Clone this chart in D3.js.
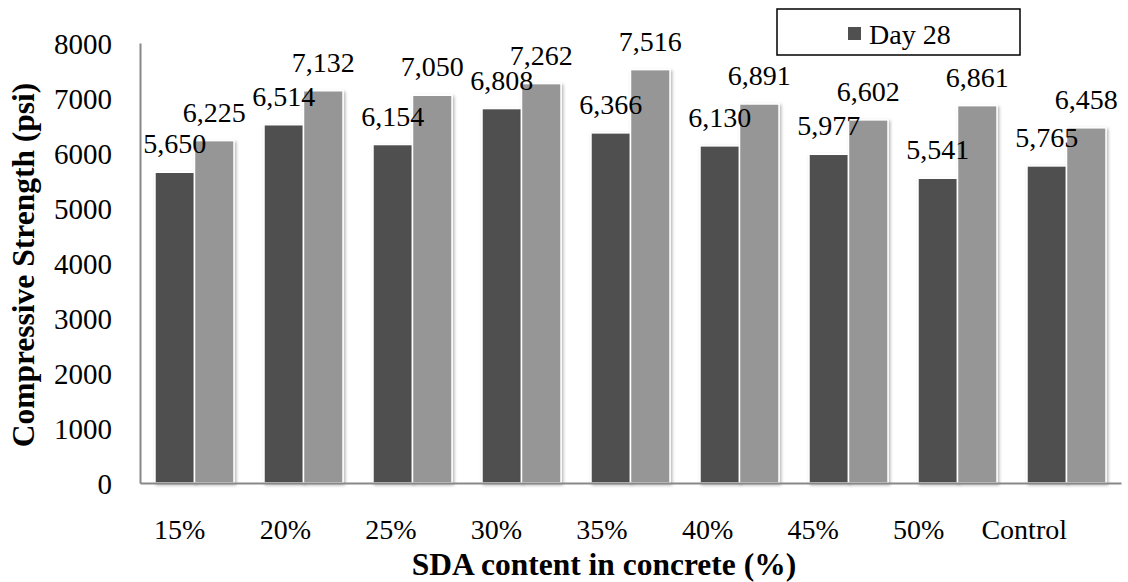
<!DOCTYPE html>
<html>
<head>
<meta charset="utf-8">
<script src="https://cdn.jsdelivr.net/npm/d3@7/dist/d3.min.js"></script>
<style>
  html, body { margin: 0; padding: 0; background: #fff; }
  svg text { font-family: "Liberation Serif", "Times New Roman", Times, Tinos, "DejaVu Serif", serif !important; }
</style>
</head>
<body>
<svg id="chart" width="1128" height="582"></svg>
<script>
const categories = ["15%", "20%", "25%", "30%", "35%", "40%", "45%", "50%", "Control"];
const seriesNames = ["Day 28", "Day 28b"];
const day28 = [5650, 6514, 6154, 6808, 6366, 6130, 5977, 5541, 5765];
const day28b = [6225, 7132, 7050, 7262, 7516, 6891, 6602, 6861, 6458];
const yTicks = [0, 1000, 2000, 3000, 4000, 5000, 6000, 7000, 8000];
const legendLabels = ["Day 28"];

const colors = ["#505050", "#969696"];
const svg = d3.select("#chart");
const plot = { left: 140, right: 1121, top: 43, bottom: 483 };

const defs = svg.append("defs");
const f = defs.append("filter").attr("id", "shadow")
  .attr("x", "-20%").attr("y", "-5%").attr("width", "140%").attr("height", "110%");
f.append("feDropShadow").attr("dx", 1.5).attr("dy", 1.5).attr("stdDeviation", 1.6)
  .attr("flood-color", "#000").attr("flood-opacity", 0.3);

const x0 = d3.scaleBand().domain(categories).range([plot.left, plot.right])
  .paddingInner(0.275).paddingOuter(0.1375);
const x1 = d3.scaleBand().domain([0, 1]).range([0, x0.bandwidth()]).padding(0);
// category labels in the original sit on a slightly narrower spacing than the bars
const xLab = d3.scaleBand().domain(categories).range([127, 1077]);
const y = d3.scaleLinear().domain([0, 8000]).range([plot.bottom, plot.top]);

const rows = categories.map((c, i) => ({ cat: c, vals: [day28[i], day28b[i]] }));

const g = svg.append("g");
const groups = g.selectAll("g.grp").data(rows).join("g")
  .attr("transform", d => `translate(${x0(d.cat)},0)`);
groups.selectAll("rect").data(d => d.vals.map((v, k) => ({ v, k }))).join("rect")
  .attr("x", d => x1(d.k))
  .attr("y", d => y(d.v))
  .attr("width", x1.bandwidth())
  .attr("height", d => y(0) - y(d.v))
  .attr("fill", d => colors[d.k])
  .attr("stroke", "#fff")
  .attr("stroke-width", 1.5)
  .attr("filter", "url(#shadow)");

const yAxis = svg.append("g").attr("transform", `translate(${plot.left},0)`)
  .call(d3.axisLeft(y).tickValues(yTicks).tickSize(0).tickPadding(28).tickFormat(d3.format("d")));
yAxis.attr("font-family", null);
yAxis.select(".domain").attr("stroke", "#888").attr("stroke-width", 2);
yAxis.selectAll("text").attr("font-size", 29).attr("fill", "#000").attr("dy", "0.36em");

// x axis line across plot
const xAxisLine = svg.append("g").attr("transform", `translate(0,${plot.bottom})`)
  .call(d3.axisBottom(x0).tickSize(0).tickFormat(""));
xAxisLine.select(".domain").attr("stroke", "#888").attr("stroke-width", 2);
xAxisLine.selectAll(".tick").remove();

const xAxis = svg.append("g").attr("transform", `translate(0,${plot.bottom})`)
  .call(d3.axisBottom(xLab).tickSize(0).tickPadding(36));
xAxis.attr("font-family", null);
xAxis.select(".domain").remove();
xAxis.selectAll("text").attr("font-size", 28).attr("fill", "#000");

const fmt = d3.format(",");
groups.selectAll("text.lbl").data(d => d.vals.map((v, k) => ({ v, k }))).join("text")
  .attr("class", "lbl")
  .attr("x", d => x1(d.k) + x1.bandwidth() / 2)
  .attr("y", d => y(d.v) - 19)
  .attr("text-anchor", "middle")
  .attr("font-size", 28)
  .attr("fill", "#000")
  .text(d => fmt(d.v));

svg.append("text")
  .attr("x", 604)
  .attr("y", 575)
  .attr("text-anchor", "middle")
  .attr("font-size", 31.5).attr("font-weight", "bold")
  .text("SDA content in concrete (%)");

svg.append("text")
  .attr("transform", `translate(34,265) rotate(-90)`)
  .attr("text-anchor", "middle")
  .attr("font-size", 31.5).attr("font-weight", "bold")
  .text("Compressive Strength (psi)");

const lg = svg.append("g");
lg.append("rect").attr("x", 777).attr("y", 9).attr("width", 243).attr("height", 46)
  .attr("fill", "#fff").attr("stroke", "#000").attr("stroke-width", 1.5);
lg.selectAll("rect.sw").data(legendLabels).join("rect").attr("class", "sw")
  .attr("x", 848).attr("y", 27).attr("width", 13).attr("height", 13)
  .attr("fill", colors[0]);
lg.selectAll("text").data(legendLabels).join("text")
  .attr("x", 869).attr("y", 44)
  .attr("font-size", 28).attr("fill", "#000")
  .text(d => d);
</script>
</body>
</html>
